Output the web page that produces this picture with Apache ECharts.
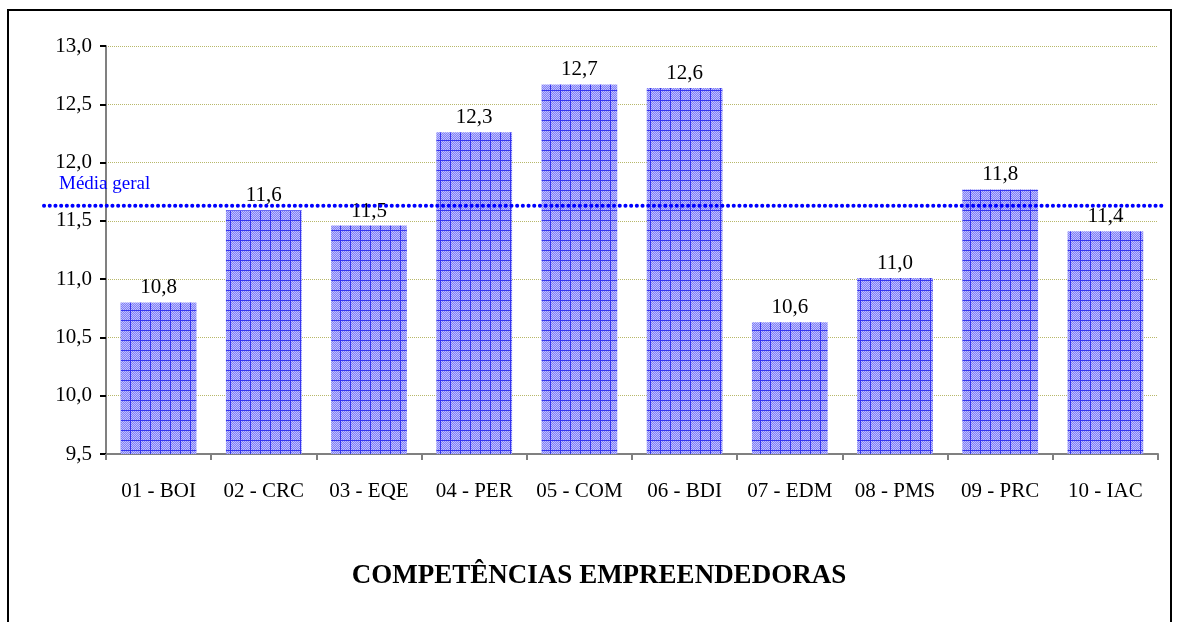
<!DOCTYPE html>
<html>
<head>
<meta charset="utf-8">
<script src="https://cdn.jsdelivr.net/npm/echarts@6/dist/echarts.min.js"></script>
<style>
  html, body { margin: 0; padding: 0; background: #fff; }
  #main { width: 1177px; height: 622px; }
</style>
</head>
<body>
<div id="main"></div>
<script>
const categories = ['01 - BOI', '02 - CRC', '03 - EQE', '04 - PER', '05 - COM', '06 - BDI', '07 - EDM', '08 - PMS', '09 - PRC', '10 - IAC']
const scores = [10.80, 11.59, 11.46, 12.26, 12.67, 12.64, 10.63, 11.01, 11.77, 11.41]
const mediaGeral = 11.63
const yTicks = [9.5, 13.0]

const serif = '"Liberation Serif", "Times New Roman", serif'

// blue crosshatch fill like the original bars
function makePattern() {
  const c = document.createElement('canvas')
  c.width = 10
  c.height = 10
  const g = c.getContext('2d')
  g.fillStyle = '#8080f4'
  g.fillRect(0, 0, 10, 10)
  g.fillStyle = '#c0c0ff'
  for (let y = 0; y < 10; y++) {
    for (let x = 0; x < 10; x++) {
      if ((x + y) % 2 === 0) g.fillRect(x, y, 1, 1)
    }
  }
  g.fillStyle = '#3535ef'
  g.fillRect(0, 0, 1, 10)
  g.fillRect(0, 0, 10, 1)
  return c
}

const chart = echarts.init(document.getElementById('main'))

const option = {
  animation: false,
  grid: {
    left: 106,
    right: 19,
    top: 46,
    bottom: 168
  },
  xAxis: {
    type: 'category',
    data: categories,
    axisLine: { lineStyle: { color: '#808080', width: 2 } },
    axisTick: { show: true, length: 6, lineStyle: { color: '#808080', width: 2 } },
    axisLabel: {
      interval: 0,
      margin: 27,
      fontFamily: serif,
      fontSize: 21,
      color: '#000'
    }
  },
  yAxis: {
    type: 'value',
    min: yTicks[0],
    max: yTicks[1],
    interval: 0.5,
    axisLine: { show: true, lineStyle: { color: '#808080', width: 2 } },
    axisTick: { show: true, length: 6, lineStyle: { color: '#000', width: 2 } },
    axisLabel: {
      margin: 14,
      fontFamily: serif,
      fontSize: 21,
      color: '#000',
      formatter: v => v.toFixed(1).replace('.', ',')
    },
    splitLine: {
      show: true,
      lineStyle: { color: '#b8b86a', width: 1, type: 'dotted' }
    }
  },
  series: [{
    type: 'bar',
    data: scores,
    barCategoryGap: '28%',
    itemStyle: {
      color: { image: makePattern(), repeat: 'repeat' }
    },
    label: {
      show: true,
      position: 'top',
      distance: 4,
      fontFamily: serif,
      fontSize: 21,
      color: '#000',
      formatter: p => p.value.toFixed(1).replace('.', ',')
    }
  }]
}

chart.setOption(option)

// average line across the chart, positioned through the y scale
const yAvg = chart.convertToPixel({ yAxisIndex: 0 }, mediaGeral)
chart.setOption({
  graphic: [
    {
      type: 'rect',
      shape: { x: 8, y: 10, width: 1163, height: 700 },
      style: { fill: 'none', stroke: '#000', lineWidth: 2 },
      silent: true
    },
    {
      type: 'line',
      shape: { x1: 44, y1: yAvg, x2: 1162, y2: yAvg },
      style: { stroke: '#0000ff', lineWidth: 4, lineDash: [0.1, 5.6], lineCap: 'round' },
      z: 10,
      silent: true
    },
    {
      type: 'text',
      x: 59,
      y: yAvg - 12,
      style: {
        text: 'Média geral',
        font: '19px ' + serif,
        fill: '#0000ff',
        verticalAlign: 'bottom'
      },
      z: 10,
      silent: true
    },
    {
      type: 'text',
      x: 599,
      y: 576,
      style: {
        text: 'COMPETÊNCIAS EMPREENDEDORAS',
        font: 'bold 27px ' + serif,
        fill: '#000',
        align: 'center',
        verticalAlign: 'middle'
      },
      silent: true
    }
  ]
})
</script>
</body>
</html>
